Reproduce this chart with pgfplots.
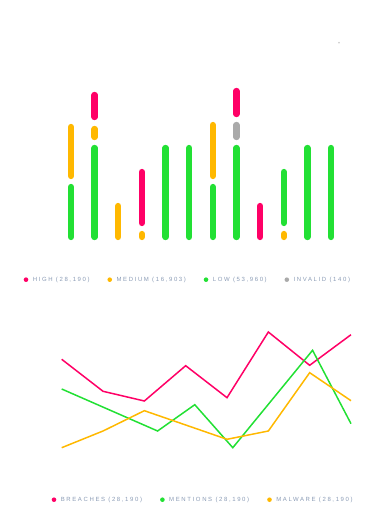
\documentclass[border=0pt]{standalone}
\usepackage{pgfplots}
\pgfplotsset{compat=1.18}
\usepackage{fontspec}
\setmainfont{Liberation Sans}
\newfontfamily\legfont[LetterSpace=27]{Liberation Sans}
\newfontfamily\symfont{DejaVu Sans}
\definecolor{cpink}{RGB}{255,0,102}
\definecolor{corange}{RGB}{255,184,0}
\definecolor{cgreen}{RGB}{34,224,52}
\definecolor{cgray}{RGB}{170,170,170}
\definecolor{clegtext}{RGB}{138,155,181}
\begin{document}
\begin{tikzpicture}
\path[use as bounding box] (0,0) rectangle (381pt,530pt);
\node[text=cgray!70, font=\symfont\fontsize{4}{4}\selectfont, inner sep=0pt] at (339pt,487pt) {▾};
% ---------------- stacked bars ----------------
\begin{axis}[
  at={(47.36pt,290pt)}, anchor=south west,
  scale only axis, width=307.3pt, height=160pt,
  xmin=0, xmax=13, ymin=0, ymax=160,
  axis lines=none, clip=false,
  unbounded coords=jump,
  every axis plot/.append style={line width=6.3pt, line cap=round},
  legend columns=4,
  legend image code/.code={\fill[#1, draw=none] (0pt,0pt) circle (2.3pt);},
  legend style={draw=none, fill=none, inner sep=0pt, outer sep=0pt,
    at={(-0.077,-0.248)}, anchor=west,
    font=\legfont\fontsize{6pt}{7pt}\selectfont, text=clegtext,
    nodes={inner sep=0pt},
    /tikz/every odd column/.append style={column sep=4.5pt},
    /tikz/every even column/.append style={column sep=17.8pt}},
]
\addplot[cpink] coordinates {(2,123) (2,145) (2,nan) (4,17) (4,68) (4,nan) (8,126) (8,149) (8,nan) (9,3) (9,34)};
\addlegendentry{HIGH (28,190)}
\addplot[corange] coordinates {(1,64) (1,113) (1,nan) (2,103) (2,111) (2,nan) (3,3) (3,34) (3,nan) (4,3) (4,6) (4,nan) (7,64) (7,115) (7,nan) (10,3) (10,6)};
\addlegendentry{MEDIUM (16,903)}
\addplot[cgreen] coordinates {(1,3) (1,53) (1,nan) (2,3) (2,92) (2,nan) (5,3) (5,92) (5,nan) (6,3) (6,92) (6,nan) (7,3) (7,53) (7,nan) (8,3) (8,92) (8,nan) (10,17) (10,68) (10,nan) (11,3) (11,92) (11,nan) (12,3) (12,92)};
\addlegendentry{LOW (53,960)}
\addplot[cgray] coordinates {(8,103) (8,115)};
\addlegendentry{INVALID (140)}
\end{axis}
% ---------------- lines ----------------
\begin{axis}[
  at={(61.7pt,70pt)}, anchor=south west,
  scale only axis, width=289.3pt, height=140pt,
  xmin=0, xmax=7, ymin=0, ymax=140,
  axis lines=none, clip=false,
  every axis plot/.append style={line width=1.5pt, line join=miter},
  legend columns=3,
  legend image code/.code={\fill[#1, draw=none] (0pt,0pt) circle (2.3pt);},
  legend style={draw=none, fill=none, inner sep=0pt, outer sep=0pt,
    at={(-0.0346,-0.2836)}, anchor=west,
    font=\legfont\fontsize{6pt}{7pt}\selectfont, text=clegtext,
    nodes={inner sep=0pt},
    /tikz/every odd column/.append style={column sep=4.5pt},
    /tikz/every even column/.append style={column sep=18pt}},
]
\addplot[cpink] coordinates {(0,100.7) (1,68.7) (2,59) (3,94.3) (4,62.3) (5,128) (6,94.7) (7,125.3)};
\addlegendentry{BREACHES (28,190)}
\addplot[cgreen] coordinates {(0,71) (2.32,29) (3.22,55.3) (4.14,12.3) (6.07,109.7) (7,36.3)};
\addlegendentry{MENTIONS (28,190)}
\addplot[corange] coordinates {(0,12.3) (1,29) (2,49.3) (3,35) (4,20.7) (5,29) (6,87.3) (7,59.3)};
\addlegendentry{MALWARE (28,190)}
\end{axis}
\end{tikzpicture}
\end{document}
